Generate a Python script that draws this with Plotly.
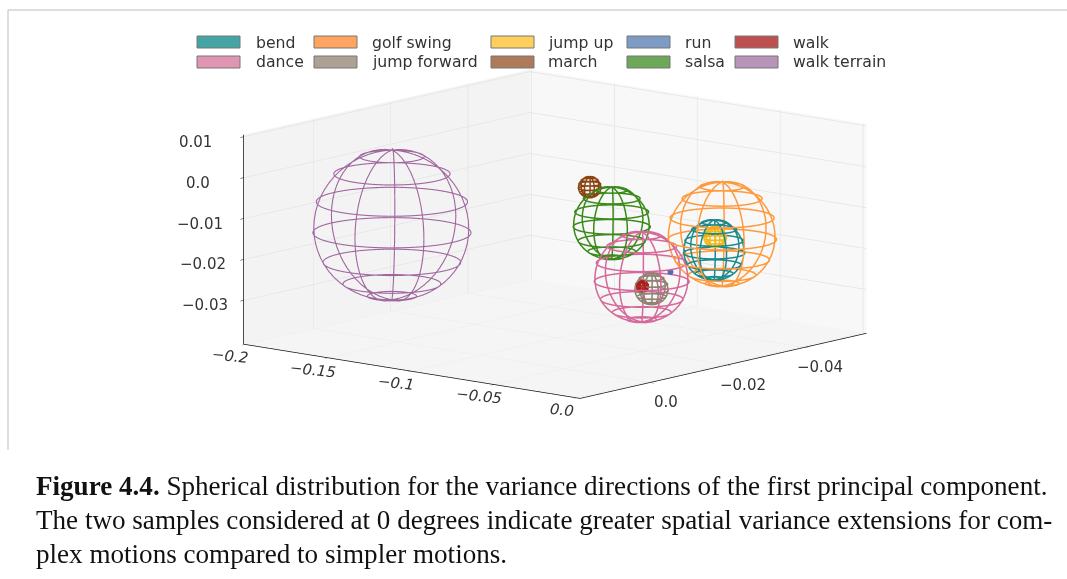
import numpy as np
import plotly.graph_objects as go

names = ["bend", "dance", "golf swing", "jump forward", "jump up", "march", "run", "salsa", "walk", "walk terrain"]
line_colors = ["#1b8a8f", "#d4699a", "#ff9a3c", "#8f8270", "#f5b914", "#8b4513", "#4a6fb0", "#3a8a1a", "#b01c1c", "#a0679f"]
swatch_colors = ["#45a5a5", "#e095b2", "#ffa55f", "#aca193", "#ffcf5c", "#ae7a59", "#7d9bc5", "#6ca858", "#bf5050", "#b894b8"]
center_x = [-0.0285, -0.0548, -0.0285, -0.04875, -0.0285, -0.0894, -0.0386, -0.0792, -0.04875, -0.1442]
center_y = [-0.02971, -0.02226, -0.03177, -0.02221, -0.02997, -0.02365, -0.02275, -0.02496, -0.0199, 0.004]
center_z = [-0.01666, -0.02336, -0.01321, -0.02588, -0.01355, -0.00398, -0.02119, -0.01238, -0.02477, -0.01085]
radius_x = [0.01423, 0.02203, 0.02525, 0.0078, 0.00528, 0.00528, 0.00092, 0.0179, 0.00275, 0.0367]
radius_y = [0.00513, 0.00794, 0.0091, 0.00281, 0.0019, 0.0019, 0.00033, 0.00645, 0.00099, 0.01324]
radius_z = [0.00733, 0.011, 0.0127, 0.00379, 0.00256, 0.00256, 0.00049, 0.0088, 0.00134, 0.0183]
widths = [3.0, 3.0, 3.0, 3.0, 3.0, 3.0, 4.0, 3.0, 3.0, 2.2]

latitudes_deg = [66, 43, 18, -6, -30, -52, -72]
longitudes_deg = [128, 76.6, 25.2, -26.2, -77.6, -129, -180.4]

x_ticks = [-0.2, -0.15, -0.1, -0.05, 0.0]
x_labels = ["\u22120.2", "\u22120.15", "\u22120.1", "\u22120.05", "0.0"]
y_ticks = [-0.04, -0.02, 0.0]
y_labels = ["\u22120.04", "\u22120.02", "0.0"]
z_ticks = [-0.03, -0.02, -0.01, 0.0, 0.01]
z_labels = ["\u22120.03", "\u22120.02", "\u22120.01", "0.0", "0.01"]

x_range = [-0.201, 0.002]
y_range_plotted = [-0.018, 0.056]
z_range = [-0.0407, 0.0105]

caption_lines = [
    "<b>Figure 4.4.</b> Spherical distribution for the variance directions of the first principal component.",
    "The two samples considered at 0 degrees indicate greater spatial variance extensions for com-",
    "plex motions compared to simpler motions.",
]

W, H = 1067, 579
z_label_xshift = [-38, -40, -43, -45, -48]


def wire(cx, cy, cz, rx, ry, rz):
    # The reference draws its y axis inverted, so y is plotted negated and labelled with the original values.
    xs, ys, zs = [], [], []
    t = np.radians(np.arange(0, 361, 6))
    for lat in np.radians(latitudes_deg):
        xs += list(cx + rx * np.cos(lat) * np.cos(t)) + [None]
        ys += list(-cy + ry * np.cos(lat) * np.sin(t)) + [None]
        zs += list(cz + rz * np.sin(lat) * np.ones_like(t)) + [None]
    p = np.radians(np.arange(-90, 91, 6))
    for lon in np.radians(longitudes_deg):
        xs += list(cx + rx * np.cos(p) * np.cos(lon)) + [None]
        ys += list(-cy + ry * np.cos(p) * np.sin(lon)) + [None]
        zs += list(cz + rz * np.sin(p)) + [None]
    return xs, ys, zs


fig = go.Figure()
for i, name in enumerate(names):
    xs, ys, zs = wire(center_x[i], center_y[i], center_z[i], radius_x[i], radius_y[i], radius_z[i])
    fig.add_trace(go.Scatter3d(x=xs, y=ys, z=zs, mode="lines", name=name,
                               line=dict(color=line_colors[i], width=widths[i]),
                               hoverinfo="skip", showlegend=False))


def axis(rng, vals, bg):
    return dict(range=rng, autorange=False, tickmode="array", tickvals=vals, title=dict(text=""), showticklabels=False,
                showbackground=True, backgroundcolor=bg, gridcolor="#e4e4e4", gridwidth=1.5, zeroline=False,
                showline=True, linecolor="#111111", linewidth=1.5, ticks="outside", ticklen=5, tickcolor="#111111",
                showspikes=False)


tick_font = dict(family="DejaVu Sans", size=15, color="#333333")
scene_labels = []
for v, s in zip(x_ticks, x_labels):
    scene_labels.append(dict(x=v, y=y_range_plotted[0], z=z_range[0], text="<i>" + s + "</i>", showarrow=False,
                             xshift=-15, yshift=-12, textangle=6, font=tick_font))
for v, s in zip(y_ticks, y_labels):
    scene_labels.append(dict(x=x_range[1], y=-v, z=z_range[0], text=s, showarrow=False,
                             xshift=16, yshift=-20, font=tick_font))
for v, s, dx in zip(z_ticks, z_labels, z_label_xshift):
    scene_labels.append(dict(x=x_range[0], y=y_range_plotted[0], z=v, text=s, showarrow=False,
                             xshift=dx, yshift=-5, font=tick_font))

D = 3.0
fig.update_layout(
    width=W, height=H, margin=dict(l=0, r=0, t=0, b=0), paper_bgcolor="white", showlegend=False,
    scene=dict(
        domain=dict(x=[0.04, 1.0], y=[0.192, 1.0]),
        xaxis=axis(x_range, x_ticks, "#f3f3f3"),
        yaxis=axis(y_range_plotted, [-v for v in y_ticks], "#f8f8f8"),
        zaxis=axis(z_range, z_ticks, "#f5f5f5"),
        aspectmode="manual", aspectratio=dict(x=1.88, y=1.9, z=0.912),
        camera=dict(eye=dict(x=0.632 * D, y=-0.751 * D, z=0.1915 * D), up=dict(x=0, y=0, z=1),
                    center=dict(x=0, y=0, z=0), projection=dict(type="orthographic")),
        annotations=scene_labels,
    ),
)

shapes = [
    dict(type="line", xref="paper", yref="paper", x0=8 / W, x1=1, y0=1 - 10 / H, y1=1 - 10 / H, line=dict(color="#bdbdbd", width=1)),
    dict(type="line", xref="paper", yref="paper", x0=8 / W, x1=8 / W, y0=1 - 10 / H, y1=1 - 450 / H, line=dict(color="#bdbdbd", width=1)),
]
annotations = []
col_swatch = [197, 314, 491, 627, 735]
col_text = [254, 370, 546, 683, 791]
rows = [42, 62]
order = [(0, 0), (0, 1), (1, 0), (1, 1), (2, 0), (2, 1), (3, 0), (3, 1), (4, 0), (4, 1)]
legend_order = [0, 1, 2, 3, 4, 5, 6, 7, 8, 9]
for (c, r), k in zip(order, legend_order):
    y = rows[r]
    shapes.append(dict(type="rect", xref="paper", yref="paper", x0=col_swatch[c] / W, x1=(col_swatch[c] + 43) / W,
                       y0=1 - (y - 6) / H, y1=1 - (y + 6) / H, fillcolor=swatch_colors[k], line=dict(color="#777777", width=1)))
    annotations.append(dict(xref="paper", yref="paper", x=col_text[c] / W, y=1 - y / H, text=names[k], showarrow=False,
                            xanchor="left", yanchor="middle", font=dict(family="DejaVu Sans", size=15.7, color="#333333")))
for line, y in zip(caption_lines, [486, 520, 554]):
    annotations.append(dict(xref="paper", yref="paper", x=34 / W, y=1 - y / H, text=line, showarrow=False,
                            xanchor="left", yanchor="middle", font=dict(family="Liberation Serif", size=27.1, color="#111111")))
fig.update_layout(shapes=shapes, annotations=annotations)
fig.write_html("out.html", config=dict(displayModeBar=False),
               post_script="document.body.style.margin='0';document.documentElement.style.overflow='hidden';")
